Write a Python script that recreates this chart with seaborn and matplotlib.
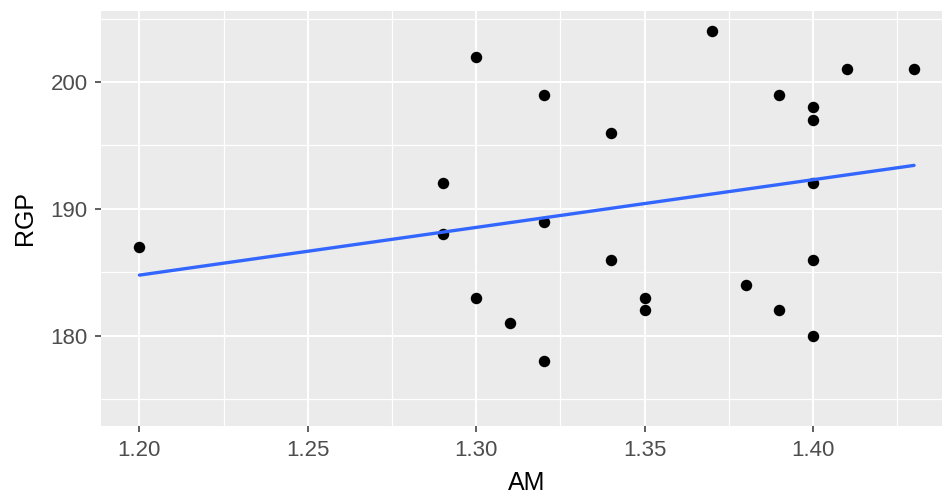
import numpy as np
import pandas as pd
import matplotlib
matplotlib.use("Agg")
import matplotlib.pyplot as plt
import seaborn as sns
from matplotlib.ticker import MultipleLocator

# values
am = [1.20, 1.29, 1.29, 1.30, 1.30, 1.31, 1.32, 1.32, 1.32, 1.34, 1.34, 1.35,
      1.35, 1.37, 1.38, 1.39, 1.39, 1.40, 1.40, 1.40, 1.40, 1.40, 1.41, 1.43]
rgp = [187, 192, 188, 202, 183, 181, 199, 189, 178, 196, 186, 183,
       182, 204, 184, 199, 182, 198, 197, 192, 186, 180, 201, 201]

data = pd.DataFrame({"AM": am, "RGP": rgp})

sns.set_theme(style="darkgrid", rc={
    "axes.facecolor": "#EBEBEB",
    "grid.color": "white",
    "axes.edgecolor": "#EBEBEB",
})
plt.rcParams["font.family"] = ["Liberation Sans", "DejaVu Sans"]

fig = plt.figure(figsize=(9.42, 4.93), dpi=100)
ax = fig.add_axes([100.7 / 942, (493 - 425.7) / 493, (952.8 - 100.7) / 942, (425.7 - 11) / 493])

sns.regplot(data=data, x="AM", y="RGP", ci=None, ax=ax,
            scatter_kws=dict(s=68, color="black", linewidths=0, alpha=1),
            line_kws=dict(color="#3366FF", lw=2.4))

ax.set_xlim(1.1885, 1.4415)
ax.set_ylim(172.9, 205.6)
ax.xaxis.set_major_locator(MultipleLocator(0.05))
ax.xaxis.set_minor_locator(MultipleLocator(0.025))
ax.yaxis.set_major_locator(MultipleLocator(10))
ax.yaxis.set_minor_locator(MultipleLocator(5))
ax.set_xticks([1.20, 1.25, 1.30, 1.35, 1.40])
ax.set_xticklabels(["1.20", "1.25", "1.30", "1.35", "1.40"])
ax.set_yticks([180, 190, 200])
ax.set_yticklabels(["180", "190", "200"])

ax.grid(which="major", color="white", lw=1.4)
ax.grid(which="minor", color="white", lw=0.9)
ax.set_axisbelow(True)
for s in ax.spines.values():
    s.set_visible(False)

ax.tick_params(which="major", length=4.3, width=1.1, color="#333333",
               labelcolor="#4D4D4D", labelsize=16, bottom=True, left=True)
ax.tick_params(axis="x", which="major", pad=6)
ax.tick_params(axis="y", which="major", pad=5)
ax.tick_params(which="minor", length=0)

ax.set_xlabel("AM", fontsize=18, color="black", labelpad=7)
ax.set_ylabel("RGP", fontsize=18, color="black", labelpad=10)

fig.savefig("out.png", dpi=100)
